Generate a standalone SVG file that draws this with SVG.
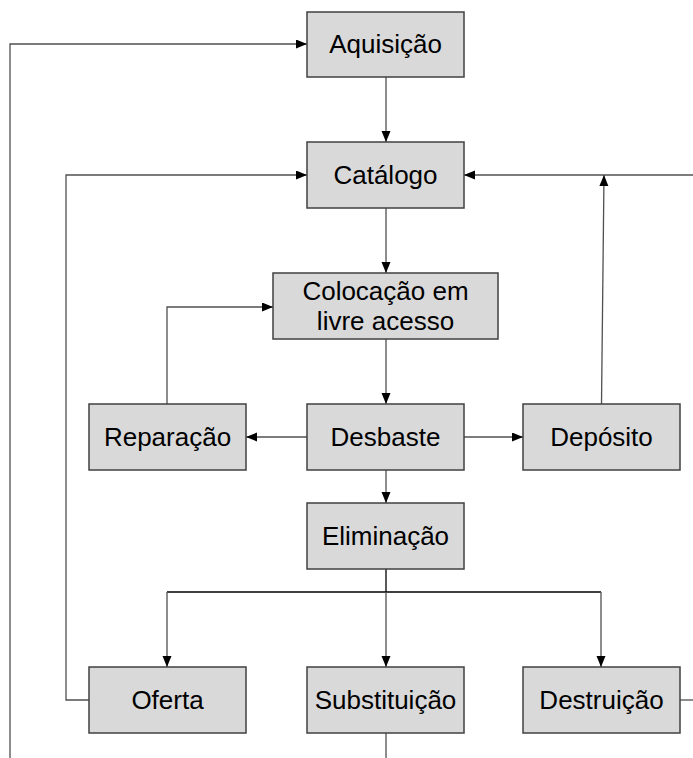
<svg xmlns="http://www.w3.org/2000/svg" width="693" height="758" viewBox="0 0 693 758">
<defs>
<marker id="ah" markerUnits="userSpaceOnUse" markerWidth="12" markerHeight="10" refX="11" refY="4.5" orient="auto">
<path d="M0,0 L11,4.5 L0,9 z" fill="#000"/>
</marker>
<style>
.box{fill:#d9d9d9;stroke:#404040;stroke-width:1.5}
.lbl{font-family:"Liberation Sans",Arial,sans-serif;font-size:26px;fill:#000;text-anchor:middle}
.c{fill:none;stroke:#505050;stroke-width:1.3}
.a{marker-end:url(#ah)}
.k{stroke:#000}
</style>
</defs>
<rect width="693" height="758" fill="#fff"/>
<g id="connectors">
<polyline class="c a" points="10,758 10,44 307,44"/>
<line class="c a" x1="386" y1="77" x2="386" y2="142"/>
<polyline class="c a" points="89,700 66,700 66,175 307,175"/>
<line class="c a" x1="693" y1="175" x2="464" y2="175"/>
<line class="c a" x1="601.5" y1="404" x2="604" y2="175"/>
<line class="c a" x1="386" y1="208" x2="386" y2="273"/>
<polyline class="c a" points="167,404 167,307 273,307"/>
<line class="c a" x1="386" y1="339" x2="386" y2="404"/>
<line class="c a" x1="307" y1="437" x2="246" y2="437"/>
<line class="c a" x1="464" y1="437" x2="523" y2="437"/>
<line class="c a" x1="386" y1="470" x2="386" y2="503"/>
<line class="c k" x1="386" y1="569" x2="386" y2="592"/>
<line class="c k" x1="167" y1="592" x2="601" y2="592"/>
<line class="c a" x1="167" y1="592" x2="167" y2="667"/>
<line class="c a" x1="386" y1="592" x2="386" y2="667"/>
<line class="c a" x1="601" y1="592" x2="601" y2="667"/>
<line class="c" x1="386" y1="733" x2="386" y2="758"/>
<line class="c" x1="680" y1="700" x2="693" y2="700"/>
</g>
<g id="aquisicao"><rect class="box" x="307" y="12" width="157" height="65"/><text class="lbl" x="385.5" y="53">Aquisição</text></g>
<g id="catalogo"><rect class="box" x="307" y="142" width="157" height="66"/><text class="lbl" x="385.5" y="184">Catálogo</text></g>
<g id="colocacao"><rect class="box" x="273" y="273" width="225" height="66"/><text class="lbl" x="385.5" y="300">Colocação em</text><text class="lbl" x="385.5" y="330">livre acesso</text></g>
<g id="reparacao"><rect class="box" x="89" y="404" width="157" height="66"/><text class="lbl" x="167.5" y="446">Reparação</text></g>
<g id="desbaste"><rect class="box" x="307" y="404" width="157" height="66"/><text class="lbl" x="385.5" y="446">Desbaste</text></g>
<g id="deposito"><rect class="box" x="523" y="404" width="157" height="66"/><text class="lbl" x="601.5" y="446">Depósito</text></g>
<g id="eliminacao"><rect class="box" x="307" y="503" width="157" height="66"/><text class="lbl" x="385.5" y="545">Eliminação</text></g>
<g id="oferta"><rect class="box" x="89" y="667" width="157" height="66"/><text class="lbl" x="167.5" y="709">Oferta</text></g>
<g id="substituicao"><rect class="box" x="307" y="667" width="157" height="66"/><text class="lbl" x="385.5" y="709">Substituição</text></g>
<g id="destruicao"><rect class="box" x="523" y="667" width="157" height="66"/><text class="lbl" x="601.5" y="709">Destruição</text></g>
</svg>
